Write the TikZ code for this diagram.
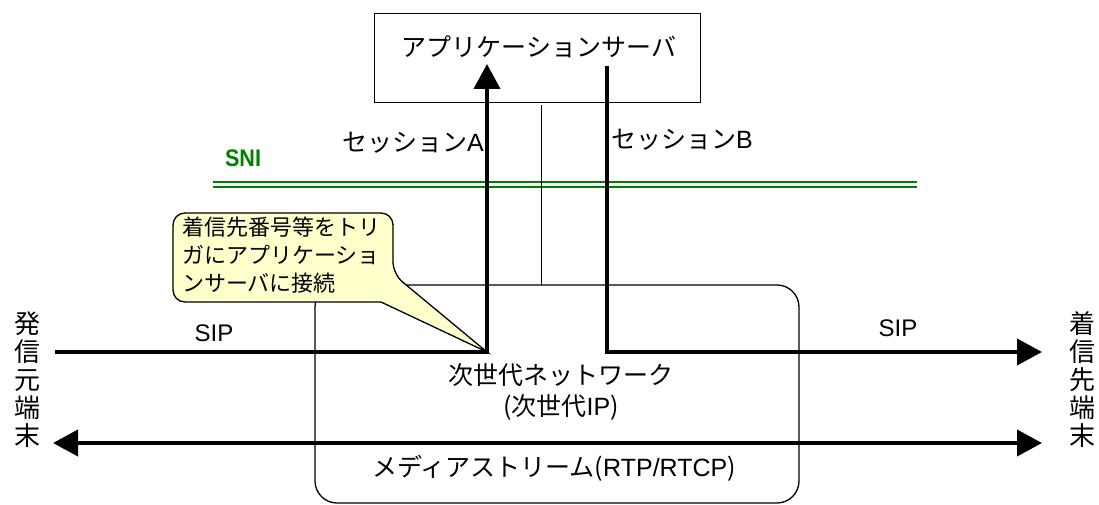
\documentclass[tikz,border=0pt]{standalone}
\usepackage{fontspec}
\setmainfont{Noto Sans CJK JP}
\newfontfamily\lat{Liberation Sans}
\usetikzlibrary{arrows.meta}
\definecolor{snigreen}{RGB}{0,128,0}
\definecolor{calloutfill}{RGB}{255,255,204}
\begin{document}
\begin{tikzpicture}[x=1pt,y=-1pt,
  heavy/.style={line width=4pt},
  tip/.style={-{Triangle[length=25pt,width=26pt]}},
  lbl/.style={inner sep=0pt,font=\fontsize{25pt}{30pt}\selectfont},
  vlbl/.style={inner sep=0pt,align=center,font=\fontsize{26pt}{28pt}\selectfont},
  box/.style={draw,line width=1.3pt}]
\useasboundingbox (0,0) rectangle (1099,505);
% network cloud box
\draw[box,rounded corners=22pt] (315,285) rectangle (799,503);
\node[lbl] (net) at (561,375) {次世代ネットワーク};
\node[lbl] (netip) at (561,407) {(次世代{\lat IP})};
% application server
\node[box,minimum width=326pt,minimum height=89pt,anchor=north west,inner sep=0pt] (as) at (374,13) {};
\node[lbl] (astext) at (539,47) {アプリケーションサーバ};
% SNI
\draw[snigreen,line width=2pt] (213,182) -- (917,182);
\draw[snigreen,line width=2pt] (213,187) -- (917,187);
\node[inner sep=0pt,text=snigreen,xscale=0.9,font=\lat\fontsize{24pt}{28pt}\bfseries\selectfont] (sni) at (243,158) {SNI};
% thin line
\coordinate (t1) at (541,105);
\coordinate (t2) at (541,285);
\draw[line width=1pt] (t1) -- (t2);
% terminals
\node[vlbl] (src) at (27,380) {発\\信\\元\\端\\末};
\node[vlbl] (dst) at (1082,380) {着\\信\\先\\端\\末};
% coordinates
\coordinate (sipl) at (55,352);
\coordinate (ja) at (487,352);
\coordinate (atop) at (487,64);
\coordinate (btop) at (607,66);
\coordinate (jb) at (607,352);
\coordinate (sipr) at (1042,352);
\coordinate (ml) at (53,443);
\coordinate (mr) at (1042,443);
% SIP / sessions
\draw[heavy,tip] (sipl) -- (ja) -- (atop);
\draw[heavy,tip] (btop) -- (jb) -- (sipr);
\draw[heavy,{Triangle[length=25pt,width=26pt]}-{Triangle[length=25pt,width=26pt]}] (ml) -- (mr);
\node[lbl,font=\lat\fontsize{24pt}{28pt}\selectfont] (sipa) at (214,333) {SIP};
\node[lbl,font=\lat\fontsize{24pt}{28pt}\selectfont] (sipb) at (898,328) {SIP};
\node[lbl] (sa) at (413,143) {セッション{\lat A}};
\node[lbl] (sb) at (682,140) {セッション{\lat B}};
\node[lbl] (media) at (554,468) {メディアストリーム({\lat RTP/RTCP})};
% callout
\draw[fill=calloutfill,line width=1.3pt,rounded corners=12pt] (173,258) -- (173,213) -- (393,213) -- (393,274) [sharp corners] -- (ja) -- (381,302) [rounded corners=12pt] -- (173,302) -- cycle;
\node[inner sep=0pt,anchor=north west,align=left,font=\fontsize{22pt}{28pt}\selectfont] (ctext) at (182,217) {着信先番号等をトリ\\ガにアプリケーショ\\ンサーバに接続};
\end{tikzpicture}
\end{document}
